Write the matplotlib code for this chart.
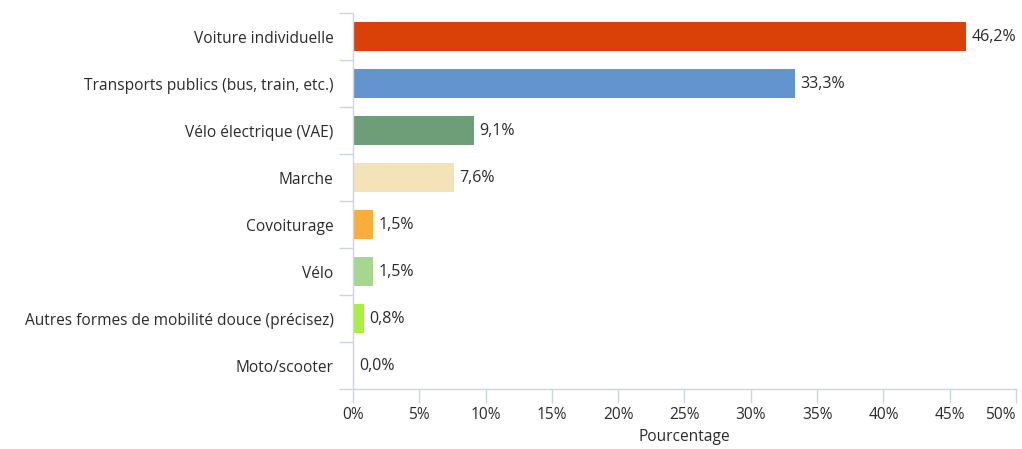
import numpy as np
import matplotlib
matplotlib.use('Agg')
from matplotlib import pyplot as plt

categories = ['Voiture individuelle', 'Transports publics (bus, train, etc.)',
              'Vélo électrique (VAE)', 'Marche', 'Covoiturage', 'Vélo',
              'Autres formes de mobilité douce (précisez)', 'Moto/scooter']
values = [46.2, 33.3, 9.1, 7.6, 1.5, 1.5, 0.8, 0.0]
colors = ['#DA4108', '#6494CE', '#6E9E78', '#F4E3B8', '#F9AE3B', '#A5D88E', '#A9F03C', '#FFFFFF']
xticks = [0, 5, 10, 15, 20, 25, 30, 35, 40, 45, 50]

plt.rcParams['font.family'] = ['Open Sans', 'DejaVu Sans']
axis_col = '#C9D5E8'
text_col = '#2B2B2B'

fig = plt.figure(figsize=(10.22, 4.49), dpi=100)
ax = fig.add_axes([0.3454, 0.1336, 0.6487, 0.8374])

y = np.arange(len(categories))
ax.barh(y, values, height=0.62, color=colors)
for yi, v in zip(y, values):
    ax.text(v + 0.45, yi, f'{v:.1f}%'.replace('.', ','), va='center', ha='left',
            fontsize=11.5, color=text_col)

ax.set_xlim(0, 50)
ax.set_ylim(len(categories) - 0.5, -0.5)

ax.set_yticks(y)
ax.set_yticklabels(categories, fontsize=11.2, color=text_col)
ax.set_yticks(np.arange(-0.5, len(categories)), minor=True)
ax.tick_params(axis='y', which='major', length=0, pad=14)
ax.tick_params(axis='y', which='minor', length=10, color=axis_col, width=1)

ax.set_xticks(xticks)
ax.set_xticklabels([f'{t}%' for t in xticks], fontsize=11.2, color=text_col)
ax.tick_params(axis='x', length=10, color=axis_col, width=1, pad=3)
ax.get_xticklabels()[-1].set_ha('right')
ax.set_xlabel('Pourcentage', fontsize=11.2, color=text_col, labelpad=4)

for s in ['top', 'right']:
    ax.spines[s].set_visible(False)
for s in ['left', 'bottom']:
    ax.spines[s].set_color(axis_col)
    ax.spines[s].set_linewidth(1)

fig.savefig('out.png', dpi=100)
